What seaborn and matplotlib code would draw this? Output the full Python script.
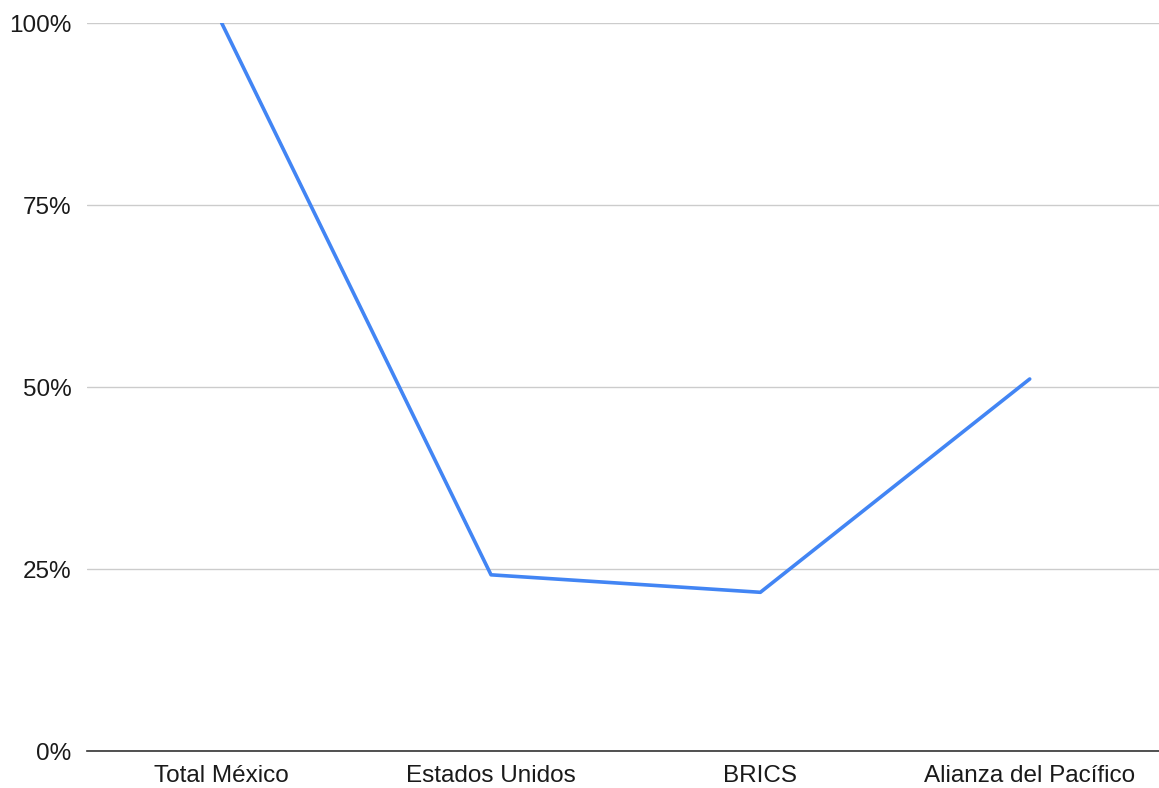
import matplotlib
matplotlib.use("Agg")
import matplotlib.pyplot as plt
import seaborn as sns
import pandas as pd
from matplotlib.ticker import FuncFormatter

categories = ["Total México", "Estados Unidos", "BRICS", "Alianza del Pacífico"]
values = [100.0, 24.2, 21.8, 51.1]
yticks = [0, 25, 50, 75, 100]

df = pd.DataFrame({"cat": categories, "val": values})

sns.set_theme(style="white")
plt.rcParams["font.family"] = ["Liberation Sans", "DejaVu Sans"]

fig = plt.figure(figsize=(11.59, 7.88), dpi=100)
ax = fig.add_axes([87/1159, 37/788, (1159-87)/1159, (751-23)/788])

sns.lineplot(data=df, x="cat", y="val", ax=ax, color="#4285F4", linewidth=2.6, sort=False)

ax.set_xlim(-0.5, 3.48)
ax.set_ylim(0, 100)
ax.set_yticks(yticks)
ax.yaxis.set_major_formatter(FuncFormatter(lambda v, p: f"{int(v)}%"))
ax.grid(axis="y", color="#cccccc", linewidth=1)
ax.set_axisbelow(True)
for s in ["top", "right", "left"]:
    ax.spines[s].set_visible(False)
ax.spines["bottom"].set_color("#333333")
ax.spines["bottom"].set_linewidth(1.2)
ax.tick_params(axis="both", length=0, labelsize=17.5, colors="#1a1a1a")
ax.tick_params(axis="x", pad=10)
ax.tick_params(axis="y", pad=11)
ax.set_xlabel("")
ax.set_ylabel("")

fig.savefig("out.png", dpi=100)
